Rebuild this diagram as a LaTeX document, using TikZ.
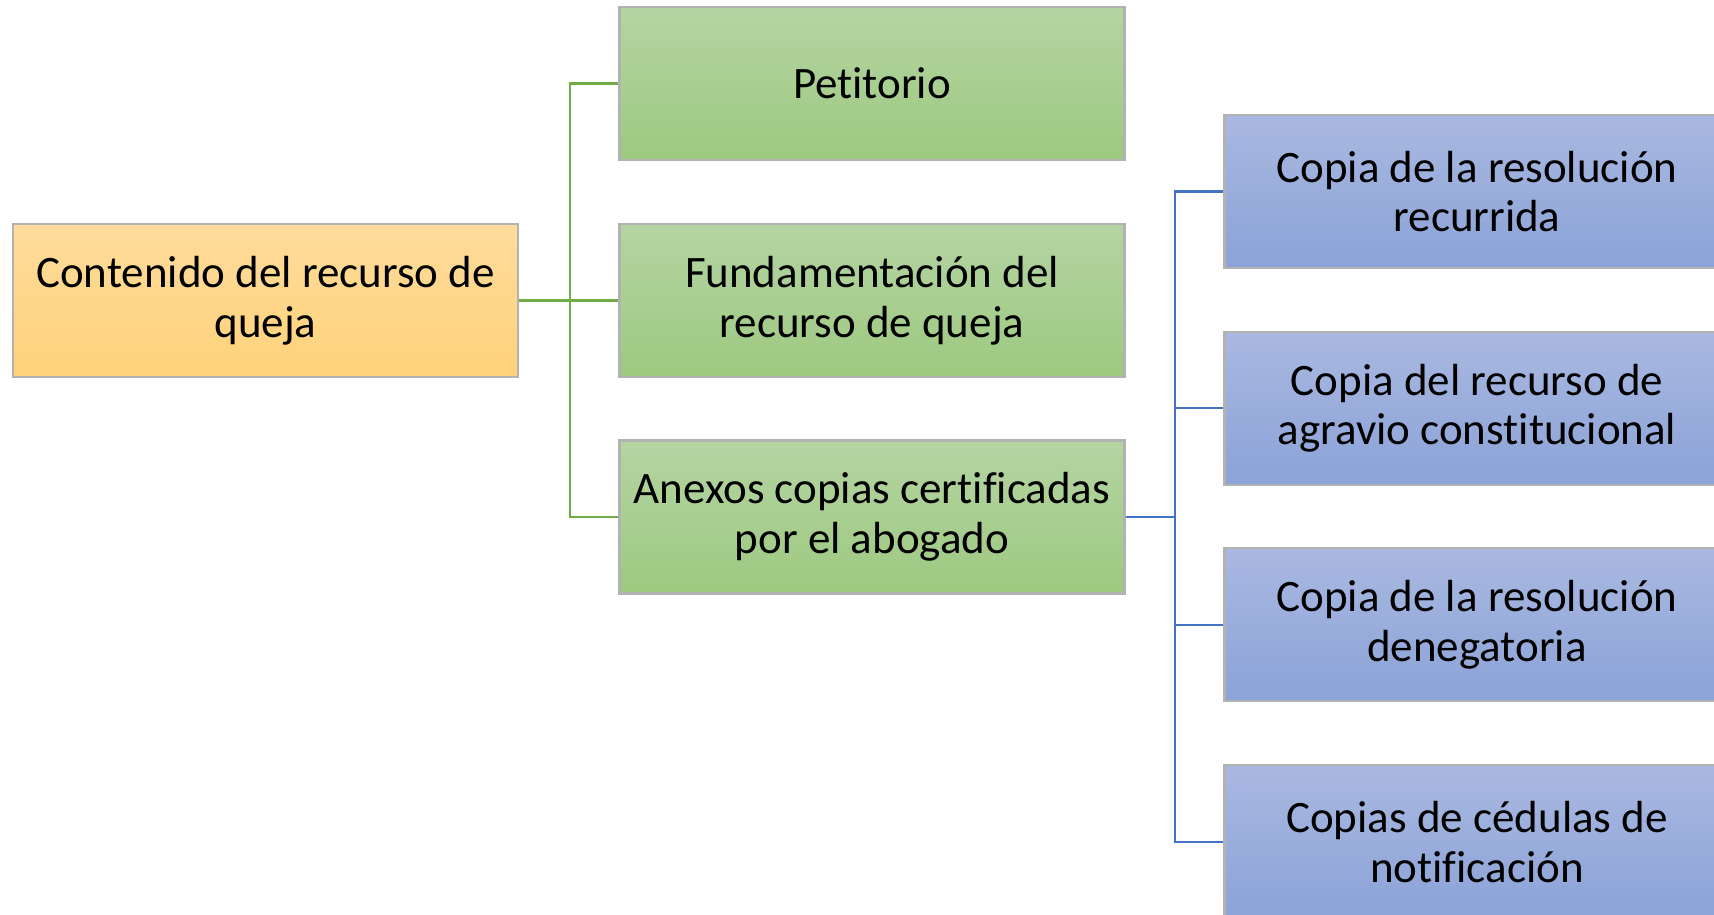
\documentclass[tikz,border=0pt]{standalone}
\usepackage{fontspec}
\setmainfont{Carlito}[Ligatures=NoCommon]
\begin{document}
\begin{tikzpicture}[
    caja/.style={draw=gray!60, line width=0.6pt, minimum width=5.05cm, minimum height=1.53cm,
                 align=center, font=\fontsize{12.8}{14.2}\selectfont},
    naranja/.style={caja, top color=cnaranjaA, bottom color=cnaranjaB},
    verde/.style={caja, top color=cverdeA, bottom color=cverdeB},
    azul/.style={caja, top color=cazulA, bottom color=cazulB},
    lineaverde/.style={draw=lverde, line width=0.6pt},
    lineaazul/.style={draw=lazul, line width=0.6pt}]
        %colores
        \definecolor{cnaranjaA}{HTML}{FFDC9C}
        \definecolor{cnaranjaB}{HTML}{FFD27A}
        \definecolor{cverdeA}{HTML}{B5D4A3}
        \definecolor{cverdeB}{HTML}{9CC97F}
        \definecolor{cazulA}{HTML}{A9B8E0}
        \definecolor{cazulB}{HTML}{8BA3D8}
        \definecolor{lverde}{HTML}{70AD47}
        \definecolor{lazul}{HTML}{4472C4}

        % Marco
        \clip (0,0) rectangle (17.14,-9.14);

        % Nodo raiz y nivel verde
        \node[naranja] (raiz) at (2.655,-3.005) {Contenido del recurso de\\queja};
        \node[verde] (peti) at (8.72,-0.835) {Petitorio};
        \node[verde] (fund) at (8.72,-3.005) {Fundamentación del\\recurso de queja};
        \node[verde] (anex) at (8.72,-5.17) {Anexos copias certificadas\\por el abogado};

        % Nivel azul
        \foreach \i/\texto in {0/{Copia de la resolución\\recurrida},
                               1/{Copia del recurso de\\agravio constitucional},
                               2/{Copia de la resolución\\denegatoria},
                               3/{Copias de cédulas de\\notificación}}
            \node[azul] (b\i) at (14.77,-1.915-2.167*\i) {\texto};

        % Conectores verdes
        \coordinate (bv) at (5.70,-3.005);
        \draw[lineaverde] (raiz.east) -- (bv);
        \foreach \n in {peti,fund,anex}
            \draw[lineaverde] (bv) |- (\n.west);

        % Conectores azules
        \coordinate (ba) at (11.75,-5.17);
        \draw[lineaazul] (anex.east) -- (ba);
        \foreach \i in {0,...,3}
            \draw[lineaazul] (ba) |- (b\i.west);
    \end{tikzpicture}
\end{document}
